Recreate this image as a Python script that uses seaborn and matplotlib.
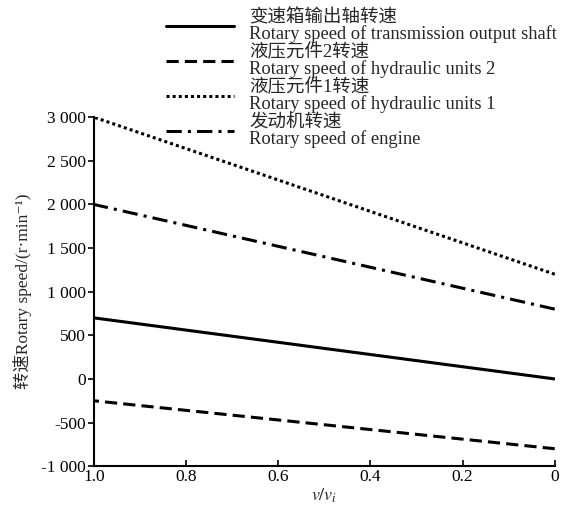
import matplotlib
matplotlib.use("Agg")
import matplotlib.pyplot as plt
import seaborn as sns
import pandas as pd

sns.set_theme(style="ticks")
plt.rcParams['font.family'] = ['Liberation Serif', 'Noto Sans CJK SC', 'DejaVu Serif']
plt.rcParams['mathtext.fontset'] = 'stix'

ratio = [1.0, 0.8, 0.6, 0.4, 0.2, 0.0]
output_shaft = [700, 560, 420, 280, 140, 0]
hydraulic_2 = [-250, -360, -470, -580, -690, -800]
hydraulic_1 = [3000, 2640, 2280, 1920, 1560, 1200]
engine = [2000, 1760, 1520, 1280, 1040, 800]

labels = [
    "变速箱输出轴转速\nRotary speed of transmission output shaft",
    "液压元件2转速\nRotary speed of hydraulic units 2",
    "液压元件1转速\nRotary speed of hydraulic units 1",
    "发动机转速\nRotary speed of engine",
]
series = [output_shaft, hydraulic_2, hydraulic_1, engine]
dash_styles = ["", (4, 2), (1, 1), (5, 2, 1, 2)]

rows = []
for lab, vals in zip(labels, series):
    for x, y in zip(ratio, vals):
        rows.append({"ratio": x, "speed": y, "series": lab})
df = pd.DataFrame(rows)

fig = plt.figure(figsize=(5.69, 5.14), dpi=100)
ax = fig.add_axes([0.165, 0.093, 0.81, 0.679])

sns.lineplot(data=df, x="ratio", y="speed", style="series", style_order=labels,
             dashes=dict(zip(labels, dash_styles)), color="black", linewidth=2.2,
             ax=ax, legend=False)

ax.set_xlim(1.0, 0.0)
ax.set_ylim(-1000, 3000)
ax.set_xticks([1.0, 0.8, 0.6, 0.4, 0.2, 0.0])
ax.set_xticklabels(["1.0", "0.8", "0.6", "0.4", "0.2", "0"])
yt = [-1000, -500, 0, 500, 1000, 1500, 2000, 2500, 3000]
ax.set_yticks(yt)
ax.set_yticklabels([f"{v:,}".replace(",", " ") for v in yt])
ax.tick_params(axis="x", direction="in", length=4, width=1.2, labelsize=12.5,
               colors="black", pad=2)
ax.tick_params(axis="y", direction="out", length=4, width=1.2, labelsize=12.5,
               colors="black", pad=2)
for s in ["top", "right"]:
    ax.spines[s].set_visible(False)
for s in ["left", "bottom"]:
    ax.spines[s].set_linewidth(1.5)
    ax.spines[s].set_color("black")

ax.set_xlabel(r"$\mathit{v}/\mathit{v}_i$", fontsize=13, labelpad=1)
ax.set_ylabel("转速Rotary speed/(r·min⁻¹)", fontsize=12.5, labelpad=6)

handles = ax.get_lines()[:4]
leg = fig.legend(handles, labels, loc="upper left", bbox_to_anchor=(0.285, 0.99),
                 frameon=False, fontsize=13.3, handlelength=3.7, labelspacing=0.05,
                 handletextpad=0.8, borderaxespad=0.0, borderpad=0.2)
for t in leg.get_texts():
    t.set_linespacing(0.9)

fig.savefig("out.png", dpi=100)
